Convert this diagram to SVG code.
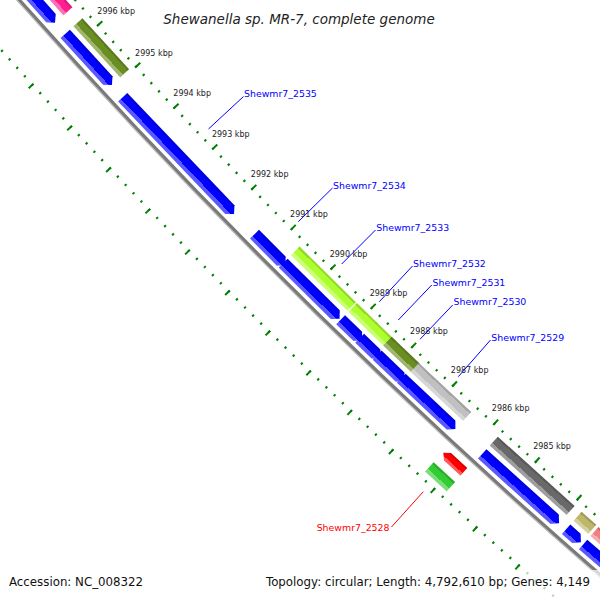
<svg xmlns="http://www.w3.org/2000/svg" width="600" height="600" viewBox="0 0 600 600">
<defs>
<linearGradient id="sh" x1="0" y1="0" x2="0" y2="1">
<stop offset="0" stop-color="#000" stop-opacity="0.15"/>
<stop offset="0.18" stop-color="#000" stop-opacity="0.15"/>
<stop offset="0.18" stop-color="#fff" stop-opacity="0"/>
<stop offset="0.7" stop-color="#fff" stop-opacity="0"/>
<stop offset="0.7" stop-color="#fff" stop-opacity="0.35"/>
<stop offset="1" stop-color="#fff" stop-opacity="0.35"/>
</linearGradient>
<style>
.rul{fill:none;stroke:#008000}
.sh{fill:url(#sh)}
.cds{fill:#0000ff}
.pink{fill:#ff2090}
.olive{fill:#6b8e23}
.lime{fill:#adff2f}
.lgray{fill:#c0c0c0}
.dgray{fill:#696969}
.khaki{fill:#bdb76b}
.coral{fill:#f08080}
.red{fill:#ff0000}
.green{fill:#32cd32}
text{font-family:"DejaVu Sans","Liberation Sans",sans-serif}
.tl{font-size:8px;fill:#222}
.gl{font-size:9.4px;fill:#0000ff}
.rl{font-size:9.4px;fill:#ff0000}
.ll{stroke:#0000ff;stroke-width:1;fill:none}
.rll{stroke:#ff0000;stroke-width:1;fill:none}
.foot{font-size:11.8px;fill:#111}
</style>
</defs>
<rect width="600" height="600" fill="#fff"/>
<g id="map" transform="translate(4760 -4211)">
 <g id="rulers">
  <path class="rul" d="M-4736.84 4152.31 A6299.15 6299.15 0 0 0 -4097.64 4784.21" stroke-width="2.5" stroke-dasharray="2 9.24471" stroke-dashoffset="1"/>
  <path class="rul" d="M-4735.14 4150.82 A6296.9 6296.9 0 0 0 -4096.17 4782.50" stroke-width="7" stroke-dasharray="2 54.2035" stroke-dashoffset="1"/>
  <path class="rul" d="M-4803.39 4210.64 A6387.65 6387.65 0 0 0 -4155.20 4851.43" stroke-width="2.5" stroke-dasharray="2 9.4027" stroke-dashoffset="1"/>
  <path class="rul" d="M-4804.89 4211.96 A6389.65 6389.65 0 0 0 -4156.51 4852.95" stroke-width="6.5" stroke-dasharray="2 55.0314" stroke-dashoffset="1"/>
 </g>
 <g id="backbone">
  <path d="M-4768.23 4179.83 A6340.9 6340.9 0 0 0 -4124.79 4815.92" fill="none" stroke="#7a7a7a" stroke-width="3.5"/>
  <path d="M-4769.73 4181.15 A6342.9 6342.9 0 0 0 -4126.09 4817.44" fill="none" stroke="#bdbdbd" stroke-width="1.2"/>
 </g>
 <g id="cog-forward">
  <g id="cog1" transform="rotate(48.5167) translate(0 6296.9)"><rect class="pink" x="-55.08" y="9" width="110.15" height="12"/><rect class="sh" x="-55.08" y="9" width="110.15" height="12"/></g>
  <g id="cog2" transform="rotate(47.5681) translate(0 6296.9)"><rect class="olive" x="-34.57" y="9" width="69.13" height="12"/><rect class="sh" x="-34.57" y="9" width="69.13" height="12"/></g>
  <g id="cog5" transform="rotate(44.6582) translate(0 6296.9)"><rect class="lime" x="-39.62" y="9" width="79.24" height="12"/><rect class="sh" x="-39.62" y="9" width="79.24" height="12"/></g>
  <g id="cog6" transform="rotate(44.1519) translate(0 6296.9)"><rect class="lime" x="-14.9" y="9" width="29.79" height="12"/><rect class="sh" x="-14.9" y="9" width="29.79" height="12"/></g>
  <g id="cog7" transform="rotate(43.9167) translate(0 6296.9)"><rect class="lime" x="-14.33" y="9" width="28.66" height="12"/><rect class="sh" x="-14.33" y="9" width="28.66" height="12"/></g>
  <g id="cog8" transform="rotate(43.6712) translate(0 6296.9)"><rect class="olive" x="-19.39" y="9" width="38.78" height="12"/><rect class="sh" x="-19.39" y="9" width="38.78" height="12"/></g>
  <g id="cog9" transform="rotate(43.1777) translate(0 6296.9)"><rect class="lgray" x="-35.96" y="9" width="71.91" height="12"/><rect class="sh" x="-35.96" y="9" width="71.91" height="12"/></g>
  <g id="cog10" transform="rotate(42.0526) translate(0 6296.9)"><rect class="dgray" x="-51.71" y="9" width="103.41" height="12"/><rect class="sh" x="-51.71" y="9" width="103.41" height="12"/></g>
  <g id="cog11" transform="rotate(41.4108) translate(0 6296.9)"><rect class="khaki" x="-9.84" y="9" width="19.67" height="12"/><rect class="sh" x="-9.84" y="9" width="19.67" height="12"/></g>
  <g id="cog12" transform="rotate(40.8355) translate(0 6296.9)"><rect class="coral" x="-50.58" y="9" width="101.16" height="12"/><rect class="sh" x="-50.58" y="9" width="101.16" height="12"/></g>
 </g>
 <g id="cds-forward">
  <g id="A1" transform="rotate(48.5167) translate(0 6296.9)"><polygon class="cds" points="-55.08,26 49.08,26 55.08,32.25 49.08,38.5 -55.08,38.5"/><polygon class="sh" points="-55.08,26 49.08,26 55.08,32.25 49.08,38.5 -55.08,38.5"/></g>
  <g id="A2" transform="rotate(47.5681) translate(0 6296.9)"><polygon class="cds" points="-34.57,26 28.57,26 34.57,32.25 28.57,38.5 -34.57,38.5"/><polygon class="sh" points="-34.57,26 28.57,26 34.57,32.25 28.57,38.5 -34.57,38.5"/></g>
  <g id="A3" transform="rotate(46.3765) translate(0 6296.9)"><polygon class="cds" points="-80.65,26 74.65,26 80.65,32.25 74.65,38.5 -80.65,38.5"/><polygon class="sh" points="-80.65,26 74.65,26 80.65,32.25 74.65,38.5 -80.65,38.5"/></g>
  <g id="A4" transform="rotate(45.1875) translate(0 6296.9)"><polygon class="cds" points="-21.92,26 15.92,26 21.92,32.25 15.92,38.5 -21.92,38.5"/><polygon class="sh" points="-21.92,26 15.92,26 21.92,32.25 15.92,38.5 -21.92,38.5"/></g>
  <g id="A5" transform="rotate(44.6582) translate(0 6296.9)"><polygon class="cds" points="-39.62,26 33.62,26 39.62,32.25 33.62,38.5 -39.62,38.5"/><polygon class="sh" points="-39.62,26 33.62,26 39.62,32.25 33.62,38.5 -39.62,38.5"/></g>
  <g id="A6" transform="rotate(44.1519) translate(0 6296.9)"><polygon class="cds" points="-14.9,26 8.9,26 14.9,32.25 8.9,38.5 -14.9,38.5"/><polygon class="sh" points="-14.9,26 8.9,26 14.9,32.25 8.9,38.5 -14.9,38.5"/></g>
  <g id="A7" transform="rotate(43.9167) translate(0 6296.9)"><polygon class="cds" points="-14.33,26 8.33,26 14.33,32.25 8.33,38.5 -14.33,38.5"/><polygon class="sh" points="-14.33,26 8.33,26 14.33,32.25 8.33,38.5 -14.33,38.5"/></g>
  <g id="A8" transform="rotate(43.6559) translate(0 6296.9)"><polygon class="cds" points="-18.83,26 12.83,26 18.83,32.25 12.83,38.5 -18.83,38.5"/><polygon class="sh" points="-18.83,26 12.83,26 18.83,32.25 12.83,38.5 -18.83,38.5"/></g>
  <g id="A9" transform="rotate(43.1879) translate(0 6296.9)"><polygon class="cds" points="-37.09,26 31.09,26 37.09,32.25 31.09,38.5 -37.09,38.5"/><polygon class="sh" points="-37.09,26 31.09,26 37.09,32.25 31.09,38.5 -37.09,38.5"/></g>
  <g id="A10" transform="rotate(42.0526) translate(0 6296.9)"><polygon class="cds" points="-51.71,26 45.71,26 51.71,32.25 45.71,38.5 -51.71,38.5"/><polygon class="sh" points="-51.71,26 45.71,26 51.71,32.25 45.71,38.5 -51.71,38.5"/></g>
  <g id="A11" transform="rotate(41.4108) translate(0 6296.9)"><polygon class="cds" points="-9.84,26 3.84,26 9.84,32.25 3.84,38.5 -9.84,38.5"/><polygon class="sh" points="-9.84,26 3.84,26 9.84,32.25 3.84,38.5 -9.84,38.5"/></g>
  <g id="A12" transform="rotate(40.8355) translate(0 6296.9)"><polygon class="cds" points="-50.58,26 44.58,26 50.58,32.25 44.58,38.5 -50.58,38.5"/><polygon class="sh" points="-50.58,26 44.58,26 50.58,32.25 44.58,38.5 -50.58,38.5"/></g>
 </g>
 <g id="reverse">
  <g id="R1" transform="rotate(42.6612) translate(0 6296.9)"><polygon class="red" points="-14.05,58 -8.05,53 14.05,53 14.05,63 -8.05,63"/><polygon class="sh" points="-14.05,58 -8.05,53 14.05,53 14.05,63 -8.05,63"/></g>
  <g id="G1" transform="rotate(42.6612) translate(0 6296.9)"><rect class="green" x="-14.61" y="71.5" width="29.22" height="12.5"/><rect class="sh" x="-14.61" y="71.5" width="29.22" height="12.5"/></g>
 </g>
</g>
<g id="tick-labels">
<text class="tl" x="97.3" y="14.3">2996 kbp</text>
<text class="tl" x="135.1" y="55.5">2995 kbp</text>
<text class="tl" x="173.3" y="96.4">2994 kbp</text>
<text class="tl" x="211.9" y="137">2993 kbp</text>
<text class="tl" x="250.8" y="177.2">2992 kbp</text>
<text class="tl" x="290.1" y="217">2991 kbp</text>
<text class="tl" x="329.7" y="256.5">2990 kbp</text>
<text class="tl" x="369.7" y="295.6">2989 kbp</text>
<text class="tl" x="410.1" y="334.4">2988 kbp</text>
<text class="tl" x="450.8" y="372.8">2987 kbp</text>
<text class="tl" x="491.8" y="410.9">2986 kbp</text>
<text class="tl" x="533.2" y="448.5">2985 kbp</text>
</g>
<g id="connectors">
<path class="ll" d="M243.5 96.5 L208.5 129"/>
<path class="ll" d="M332.5 188 L298.3 221.7"/>
<path class="ll" d="M375.5 230 L341.7 264"/>
<path class="ll" d="M412.5 266 L379.3 301.7"/>
<path class="ll" d="M431.7 285 L398.3 320"/>
<path class="ll" d="M452.7 305 L420 339.3"/>
<path class="ll" d="M490.5 340 L458.3 376.7"/>
<path class="rll" d="M391.5 527 L423.3 491.7"/>
</g>
<g id="gene-labels">
<text class="gl" x="244" y="97">Shewmr7_2535</text>
<text class="gl" x="333" y="188.5">Shewmr7_2534</text>
<text class="gl" x="376.3" y="230.5">Shewmr7_2533</text>
<text class="gl" x="413" y="266.5">Shewmr7_2532</text>
<text class="gl" x="432.5" y="285.5">Shewmr7_2531</text>
<text class="gl" x="453.5" y="305">Shewmr7_2530</text>
<text class="gl" x="491.3" y="340.5">Shewmr7_2529</text>
<text class="rl" x="389.5" y="530.5" text-anchor="end">Shewmr7_2528</text>
</g>
<g id="title">
<text x="299" y="24" text-anchor="middle" font-size="13.5" font-style="italic" fill="#222">Shewanella sp. MR-7, complete genome</text>
</g>
<g id="footer">
<rect x="256" y="570" width="344" height="30" fill="#fff" fill-opacity="0.7"/>
<text class="foot" x="9" y="586">Accession: NC_008322</text>
<text class="foot" x="590" y="586" text-anchor="end">Topology: circular; Length: 4,792,610 bp; Genes: 4,149</text>
</g>
</svg>
